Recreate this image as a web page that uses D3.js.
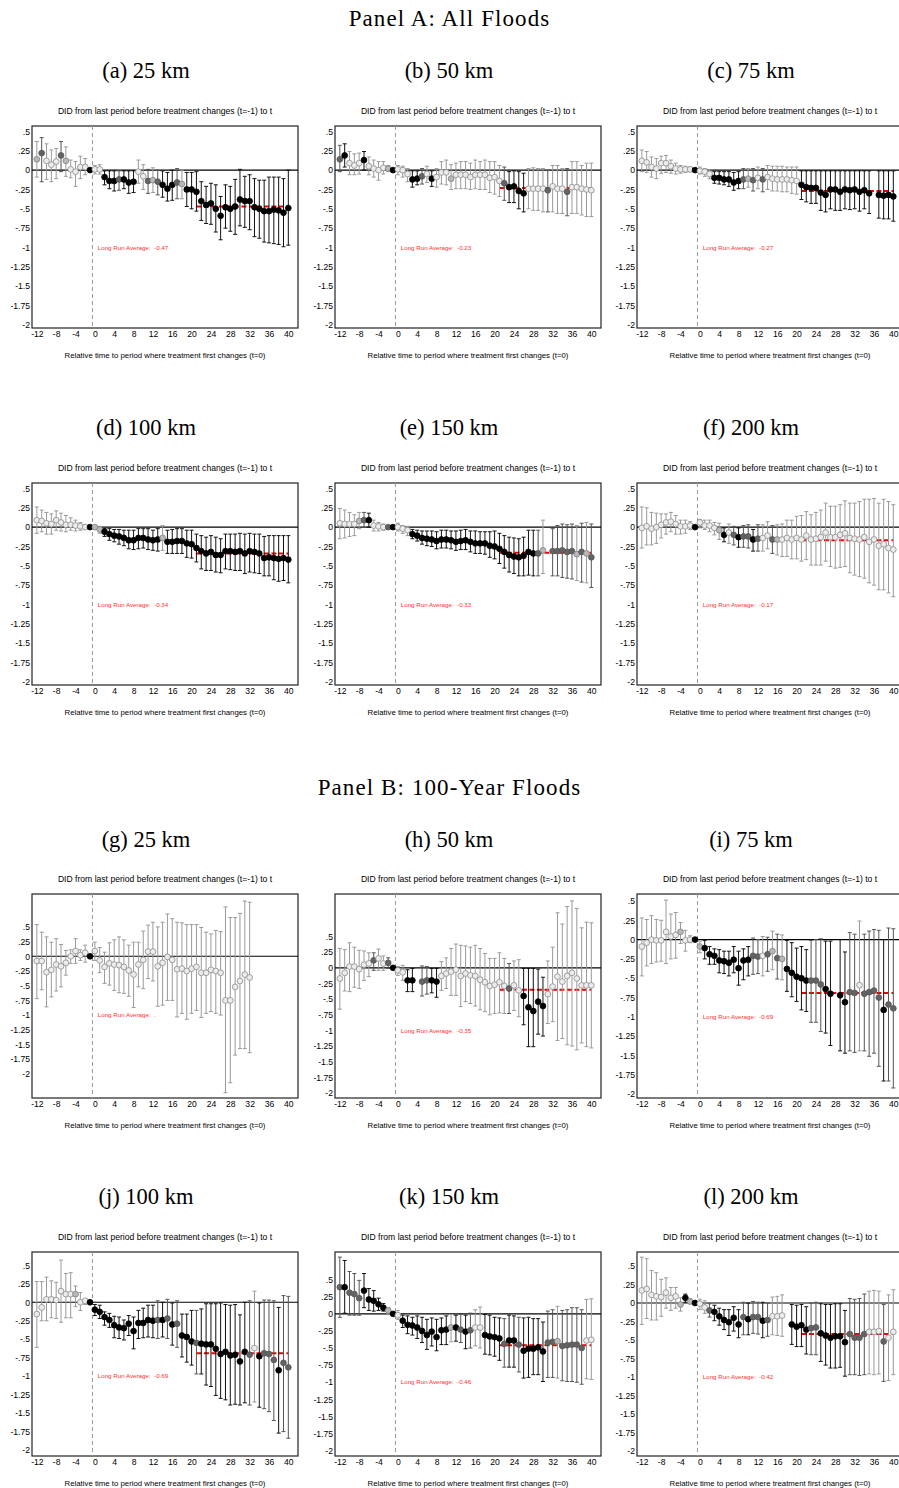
<!DOCTYPE html>
<html>
<head>
<meta charset="utf-8">
<script src="https://cdn.jsdelivr.net/npm/d3@7"></script>
<style>
body { margin: 0; background: #fff; }
svg { display: block; }
.lr { white-space: pre; }
</style>
</head>
<body>
<script>
const W = 899, H = 1488

// relative time to the first treatment change
const periods = [-12,-11,-10,-9,-8,-7,-6,-5,-4,-3,-2,-1,0,1,2,3,4,5,6,7,8,9,10,11,12,13,14,15,16,17,18,19,20,
  21,22,23,24,25,26,27,28,29,30,31,32,33,34,35,36,37,38,39,40]
const xTicks = [-12,-8,-4,0,4,8,12,16,20,24,28,32,36,40]
const yTicks = [0.5,0.25,0,-0.25,-0.5,-0.75,-1,-1.25,-1.5,-1.75,-2]
const yTickLabels = [".5",".25","0","-.25","-.5","-.75","-1","-1.25","-1.5","-1.75","-2"]

const sections = ["Panel A: All Floods", "Panel B: 100-Year Floods"]
const captions = ["(a) 25 km","(b) 50 km","(c) 75 km","(d) 100 km","(e) 150 km","(f) 200 km",
  "(g) 25 km","(h) 50 km","(i) 75 km","(j) 100 km","(k) 150 km","(l) 200 km"]
const lrAvg = [-0.47,-0.23,-0.27,-0.34,-0.33,-0.17,null,-0.35,-0.69,-0.69,-0.46,-0.42]
const lrLabels = ["-0.47","-0.23","-0.27","-0.34","-0.33","-0.17",".","-0.35","-0.69","-0.69","-0.46","-0.42"]

// marker codes: b black, d dark grey, l light grey, o hollow, - not estimated
// (a) 25 km
const est_a = [0.14,0.22,0.12,0.07,0.11,0.19,0.12,0.01,-0.02,0.04,0.04, 0,
  0.01,0.01,-0.09,-0.14,-0.14,-0.12,-0.12,-0.16,-0.15,-0.02,-0.08,-0.14,-0.13,-0.15,-0.19,-0.24,-0.19,-0.16,-0.18,-0.25,-0.25,
  -0.28,-0.40,-0.45,-0.43,-0.50,-0.59,-0.48,-0.50,-0.47,-0.38,-0.40,-0.40,-0.48,-0.50,-0.53,-0.53,-0.51,-0.52,-0.55,-0.49]
const lo_a = [-0.09,-0.15,-0.12,-0.15,-0.11,-0.02,-0.08,-0.10,-0.21,-0.11,-0.06, null,
  -0.05,-0.05,-0.19,-0.24,-0.27,-0.26,-0.24,-0.30,-0.29,-0.17,-0.25,-0.30,-0.29,-0.32,-0.35,-0.40,-0.39,-0.37,-0.37,-0.47,-0.50,
  -0.53,-0.65,-0.69,-0.70,-0.80,-0.90,-0.75,-0.79,-0.83,-0.72,-0.74,-0.77,-0.86,-0.88,-0.93,-0.94,-0.95,-0.96,-0.99,-0.97]
const hi_a = [0.37,0.42,0.34,0.26,0.28,0.37,0.30,0.13,0.11,0.18,0.15, null,
  0.06,0.07,-0.01,-0.01,-0.01,-0.01,-0.01,-0.01,-0.01,0.13,0.07,0.01,0.03,0,-0.01,-0.03,0,0.02,0,-0.03,-0.03,
  -0.02,-0.15,-0.21,-0.17,-0.19,-0.34,-0.19,-0.21,-0.12,0.01,-0.08,-0.06,-0.11,-0.13,-0.13,-0.09,-0.09,-0.09,-0.11,0]
const sty_a = "l d o o o d l o o o o b o o b b b d b b b o o d l d b b b d l b b b b b b b b b b b b b b b b b b b b b b"

// (b) 50 km
const est_b = [0.14,0.19,0.09,0.06,0.09,0.13,0.05,0.02,0,0.03,0.02, 0,
  0.01,0,-0.05,-0.12,-0.11,-0.08,-0.05,-0.11,-0.09,-0.03,-0.03,-0.11,-0.06,-0.06,-0.06,-0.09,-0.06,-0.06,-0.06,-0.10,-0.09,
  -0.14,-0.17,-0.22,-0.21,-0.27,-0.30,-0.24,-0.24,-0.24,-0.24,-0.26,-0.21,-0.24,-0.24,-0.28,-0.22,-0.22,-0.24,-0.25,-0.26]
const lo_b = [-0.02,0.04,-0.06,-0.06,-0.05,0,-0.06,-0.09,-0.13,-0.05,-0.02, null,
  -0.06,-0.09,-0.15,-0.22,-0.19,-0.18,-0.16,-0.21,-0.22,-0.18,-0.19,-0.25,-0.24,-0.24,-0.24,-0.25,-0.24,-0.25,-0.25,-0.29,-0.31,
  -0.34,-0.39,-0.42,-0.42,-0.50,-0.54,-0.50,-0.52,-0.52,-0.54,-0.54,-0.54,-0.56,-0.56,-0.59,-0.56,-0.56,-0.58,-0.60,-0.60]
const hi_b = [0.32,0.34,0.24,0.21,0.22,0.24,0.17,0.13,0.11,0.11,0.06, null,
  0.06,0.05,0.02,-0.01,-0.01,0.02,0.05,-0.01,0.02,0.11,0.13,0.07,0.09,0.11,0.11,0.09,0.13,0.11,0.13,0.11,0.11,
  0.06,0.04,-0.02,-0.01,-0.02,-0.04,0.02,0.03,0.02,0.02,0,0.06,0.06,0.02,0.02,0.11,0.11,0.06,0.09,0.09]
const sty_b = "d b o o o b o o o o l b o o o b b d o b o o o l o o o o o o o o o o d b b b b o o o o d o o o d o o o o o"

// (c) 75 km
const est_c = [0.12,0.10,0.04,0.02,0.09,0.09,0.05,0.02,0.01,0.01,0.01, 0,
  -0.01,-0.02,-0.05,-0.10,-0.10,-0.12,-0.12,-0.16,-0.14,-0.12,-0.11,-0.13,-0.10,-0.12,-0.09,-0.11,-0.12,-0.12,-0.12,-0.13,-0.14,
  -0.19,-0.22,-0.23,-0.23,-0.29,-0.32,-0.25,-0.25,-0.28,-0.25,-0.26,-0.25,-0.28,-0.26,-0.30,null,-0.32,-0.33,-0.32,-0.34]
const lo_c = [-0.02,-0.03,-0.09,-0.11,-0.04,-0.03,-0.04,-0.05,-0.04,-0.03,-0.02, null,
  -0.05,-0.08,-0.11,-0.17,-0.18,-0.19,-0.21,-0.26,-0.24,-0.24,-0.22,-0.27,-0.24,-0.28,-0.25,-0.27,-0.27,-0.28,-0.28,-0.30,-0.31,
  -0.38,-0.41,-0.43,-0.43,-0.52,-0.54,-0.50,-0.52,-0.52,-0.50,-0.51,-0.50,-0.53,-0.50,-0.56,null,-0.62,-0.63,-0.63,-0.66]
const hi_c = [0.26,0.24,0.17,0.15,0.18,0.19,0.13,0.09,0.06,0.05,0.04, null,
  0.04,0.02,0,-0.02,-0.02,-0.02,-0.02,-0.03,-0.02,0.02,0.02,0.02,0.04,0.02,0.06,0.05,0.05,0.05,0.04,0.04,0.04,
  -0.01,-0.01,-0.01,-0.01,-0.01,-0.01,-0.01,-0.01,-0.01,-0.01,-0.01,-0.01,-0.01,-0.01,-0.01,null,-0.01,-0.01,-0.01,-0.01]
const sty_c = "o o o o o o o o o o o b o o o b b b b b b d l d o d o o o o o o o b b b b b b b b b b b b b b b - b b b b"

// (d) 100 km
const est_d = [0.09,0.08,0.05,0.04,0.09,0.06,0.03,0.03,0.02,0.01,0, 0,
  0,-0.03,-0.06,-0.09,-0.11,-0.12,-0.14,-0.17,-0.17,-0.14,-0.14,-0.16,-0.17,-0.16,-0.14,-0.19,-0.19,-0.18,-0.18,-0.21,-0.22,
  -0.27,-0.31,-0.34,-0.32,-0.36,-0.36,-0.31,-0.31,-0.32,-0.31,-0.34,-0.31,-0.32,-0.34,-0.40,-0.39,-0.40,-0.41,-0.40,-0.42]
const lo_d = [-0.08,-0.06,-0.09,-0.09,-0.04,-0.05,-0.06,-0.04,-0.05,-0.04,-0.03, null,
  -0.03,-0.08,-0.12,-0.17,-0.19,-0.22,-0.24,-0.28,-0.29,-0.28,-0.27,-0.29,-0.30,-0.31,-0.30,-0.34,-0.34,-0.34,-0.34,-0.39,-0.40,
  -0.45,-0.54,-0.56,-0.56,-0.58,-0.59,-0.54,-0.55,-0.56,-0.56,-0.60,-0.58,-0.59,-0.60,-0.63,-0.63,-0.68,-0.70,-0.69,-0.72]
const hi_d = [0.26,0.22,0.19,0.17,0.21,0.18,0.15,0.12,0.09,0.06,0.03, null,
  0.02,0.01,-0.02,-0.02,-0.03,-0.03,-0.04,-0.04,-0.04,-0.02,-0.02,-0.02,-0.04,-0.02,0.02,-0.04,-0.03,-0.02,-0.02,-0.04,-0.04,
  -0.09,-0.11,-0.13,-0.11,-0.13,-0.15,-0.09,-0.09,-0.09,-0.08,-0.09,-0.08,-0.09,-0.09,-0.12,-0.11,-0.11,-0.11,-0.11,-0.11]
const sty_d = "o o o o o o o o o o o b l l b b b b b b b b b b b b l b b b b b b b b b b b b b b b b b b b b b b b b b b"

// (e) 150 km
const est_e = [0.05,0.04,0.04,0.04,0.08,0.09,0.09,0.02,0.01,0,0, 0,
  0,-0.02,-0.04,-0.09,-0.11,-0.14,-0.15,-0.16,-0.18,-0.16,-0.16,-0.17,-0.19,-0.18,-0.17,-0.19,-0.21,-0.21,-0.21,-0.24,-0.25,
  -0.28,-0.32,-0.36,-0.38,-0.39,-0.37,-0.32,-0.34,-0.34,-0.30,null,-0.31,-0.31,-0.30,-0.32,-0.31,-0.35,-0.32,-0.34,-0.39]
const lo_e = [-0.15,-0.14,-0.12,-0.11,-0.02,0,0,-0.05,-0.05,-0.04,-0.03, null,
  -0.05,-0.08,-0.11,-0.15,-0.18,-0.22,-0.24,-0.25,-0.28,-0.27,-0.27,-0.28,-0.30,-0.29,-0.29,-0.32,-0.34,-0.34,-0.35,-0.39,-0.41,
  -0.47,-0.53,-0.58,-0.60,-0.63,-0.63,-0.62,-0.63,-0.63,-0.60,null,-0.63,-0.63,-0.65,-0.66,-0.67,-0.69,-0.71,-0.72,-0.78]
const hi_e = [0.24,0.22,0.19,0.16,0.19,0.19,0.18,0.09,0.06,0.04,0.02, null,
  0.05,0.02,0.01,-0.03,-0.04,-0.05,-0.05,-0.05,-0.06,-0.04,-0.04,-0.05,-0.05,-0.04,-0.03,-0.05,-0.05,-0.06,-0.06,-0.06,-0.05,
  -0.08,-0.11,-0.13,-0.14,-0.15,-0.13,-0.04,-0.04,-0.04,0.09,null,-0.02,0.02,0.04,0.03,0.04,0.02,0.05,0.06,0.04]
const sty_e = "o o o o l d b o o o d b o o o b b b b b b b b b b b b b b b b b b b b b b b b b b d l - d d d d d l d l d"

// (f) 200 km
const est_f = [-0.01,0.01,-0.02,0,0.03,0.06,0.07,0.04,0.01,0.01,0.02, 0,
  0.06,0.02,0.02,-0.01,-0.04,-0.10,-0.07,-0.10,-0.13,-0.12,-0.12,-0.16,-0.15,-0.14,-0.11,-0.16,-0.16,-0.16,-0.14,-0.16,-0.14,
  -0.16,-0.11,-0.16,-0.15,-0.13,-0.07,-0.13,-0.13,-0.10,-0.08,-0.14,-0.15,-0.16,-0.13,-0.19,-0.16,-0.24,-0.22,-0.27,-0.29]
const lo_f = [-0.27,-0.23,-0.23,-0.21,-0.14,-0.09,-0.06,-0.09,-0.09,-0.08,-0.03, null,
  -0.01,-0.03,-0.06,-0.10,-0.16,-0.19,-0.21,-0.23,-0.26,-0.26,-0.27,-0.31,-0.31,-0.31,-0.28,-0.34,-0.36,-0.38,-0.38,-0.41,-0.41,
  -0.44,-0.42,-0.49,-0.49,-0.49,-0.44,-0.51,-0.53,-0.52,-0.51,-0.59,-0.62,-0.64,-0.66,-0.72,-0.75,-0.81,-0.81,-0.85,-0.90]
const hi_f = [0.26,0.25,0.19,0.18,0.17,0.17,0.19,0.15,0.09,0.09,0.07, null,
  0.10,0.09,0.09,0.06,0.05,-0.01,0.04,0.01,-0.01,0.02,0.03,-0.03,0.03,0.03,0.07,0.02,0.03,0.04,0.09,0.09,0.14,
  0.15,0.20,0.16,0.19,0.22,0.31,0.27,0.27,0.29,0.34,0.31,0.31,0.33,0.36,0.36,0.37,0.31,0.36,0.33,0.29]
const sty_f = "o o o o o o o o o o o b o o o o l b o d b d d b d o o d l o o o o o o o o o o o o o o o o o o o o o o o o"

// (g) 25 km, 100-year floods
const est_g = [-0.08,-0.08,-0.27,-0.23,-0.14,-0.17,-0.11,0,0.09,0.02,0.06, 0,
  0.09,-0.07,-0.18,-0.12,-0.14,-0.15,-0.18,-0.24,-0.31,-0.14,-0.06,0.08,0.08,-0.17,-0.11,-0.01,-0.06,-0.22,-0.21,-0.25,-0.21,
  -0.18,-0.28,-0.28,-0.23,-0.25,-0.28,-0.75,-0.75,-0.52,-0.42,-0.31,-0.36,null,null,null,null,null,null,null,null]
const lo_g = [-0.72,-0.57,-0.86,-0.69,-0.59,-0.52,-0.32,-0.12,-0.12,-0.07,-0.10, null,
  -0.07,-0.28,-0.46,-0.49,-0.58,-0.62,-0.63,-0.68,-0.87,-0.52,-0.55,-0.38,-0.42,-0.85,-0.83,-0.75,-0.75,-1.03,-0.97,-1.07,-0.97,
  -0.92,-1.04,-0.97,-0.94,-0.97,-1.00,-2.32,-2.15,-1.68,-1.57,-1.57,-1.64,null,null,null,null,null,null,null,null]
const hi_g = [0.54,0.41,0.33,0.24,0.30,0.20,0.10,0.11,0.30,0.11,0.19, null,
  0.24,0.15,0.07,0.23,0.28,0.33,0.28,0.19,0.24,0.24,0.43,0.53,0.58,0.50,0.58,0.72,0.64,0.58,0.57,0.54,0.54,
  0.54,0.49,0.41,0.38,0.44,0.42,0.84,0.66,0.66,0.73,0.94,0.92,null,null,null,null,null,null,null,null]
const sty_g = "o o o o o o o o o o o b o o o o o o o o o o o o o o o o o o o o o o o o o o o o o o o o o - - - - - - - -"

// (h) 50 km
const est_h = [-0.17,-0.08,0.02,0.02,-0.02,0.05,0.07,0.12,0.15,0.07,0.08, 0,
  -0.04,-0.07,-0.20,-0.20,null,-0.22,-0.20,-0.20,-0.22,-0.13,-0.09,-0.06,-0.03,-0.13,-0.09,-0.12,-0.13,-0.19,-0.23,-0.29,-0.27,
  -0.23,-0.29,-0.33,-0.28,-0.36,-0.45,-0.63,-0.69,-0.54,-0.61,-0.42,-0.30,-0.14,-0.22,-0.13,-0.08,-0.17,-0.28,-0.28,-0.28]
const lo_h = [-0.66,-0.37,-0.38,-0.31,-0.33,-0.20,-0.14,-0.04,-0.04,-0.04,-0.01, null,
  -0.12,-0.20,-0.38,-0.38,null,-0.45,-0.42,-0.40,-0.47,-0.36,-0.33,-0.44,-0.44,-0.62,-0.54,-0.57,-0.61,-0.67,-0.70,-0.75,-0.73,
  -0.72,-0.73,-0.73,-0.68,-0.78,-0.91,-1.26,-1.26,-1.06,-1.09,-0.89,-0.86,-1.16,-1.13,-1.23,-1.25,-1.31,-1.20,-1.26,-1.28]
const hi_h = [0.31,0.29,0.40,0.33,0.28,0.27,0.24,0.24,0.30,0.19,0.16, null,
  0.02,0.04,-0.03,-0.01,null,0.03,0.02,-0.01,-0.01,0.10,0.16,0.31,0.38,0.36,0.35,0.33,0.36,0.31,0.23,0.15,0.15,
  0.24,0.15,0.07,0.11,0.13,-0.01,-0.01,-0.01,-0.02,-0.15,0.11,0.33,0.88,0.70,0.98,1.07,0.95,0.64,0.73,0.72]
const sty_h = "o o o o o o o d o o d b o o b b - d d b b o o o o o o o o o o o o o o d o o b b b b b o o o o o o o o o o"

// (i) 75 km
const est_i = [-0.09,-0.04,0,-0.01,-0.01,0.10,0.04,0.06,0.10,-0.01,0, 0,
  -0.09,-0.11,-0.19,-0.21,-0.27,-0.28,-0.30,-0.26,-0.37,-0.27,-0.26,-0.21,-0.22,-0.21,-0.19,-0.15,-0.24,-0.25,-0.38,-0.43,-0.48,
  -0.50,-0.53,-0.53,-0.53,-0.58,-0.64,-0.70,null,-0.72,-0.81,-0.68,-0.69,-0.59,-0.70,-0.68,-0.66,-0.75,-0.91,-0.84,-0.89]
const lo_i = [-0.47,-0.34,-0.31,-0.29,-0.28,-0.31,-0.25,-0.24,-0.05,-0.15,-0.04, null,
  -0.17,-0.25,-0.32,-0.32,-0.43,-0.44,-0.47,-0.43,-0.59,-0.52,-0.47,-0.45,-0.44,-0.47,-0.41,-0.39,-0.51,-0.52,-0.67,-0.74,-0.80,
  -0.91,-0.93,-1.07,-1.07,-1.19,-1.21,-1.37,null,-1.44,-1.47,-1.44,-1.46,-1.44,-1.44,-1.51,-1.47,-1.64,-1.83,-1.83,-1.92]
const hi_i = [0.28,0.26,0.31,0.26,0.25,0.51,0.33,0.35,0.22,0.12,0.05, null,
  -0.02,-0.01,-0.09,-0.12,-0.13,-0.15,-0.15,-0.09,-0.15,-0.12,-0.09,0.02,0,0.04,0.03,0.11,0.07,0.06,-0.01,-0.04,-0.11,
  -0.09,-0.13,-0.01,0,0.01,-0.02,-0.02,null,0,-0.16,0.09,0.07,0.24,0.07,0.11,0.13,0.12,0,0.15,0.14]
const sty_i = "o o o o o o o o l o o b l b b b b b b b b b b d d o d l d l b b b b b d d d b b - b b d d o d d d d b d d"

// (j) 100 km
const est_j = [-0.16,-0.07,0.04,0.04,0.03,0.15,0.11,0.11,0.11,0,0.02, 0,
  -0.10,-0.13,-0.20,-0.24,-0.31,-0.34,-0.35,-0.29,-0.39,-0.28,-0.28,-0.24,-0.25,-0.24,-0.24,-0.22,-0.30,-0.29,-0.45,-0.47,-0.53,
  -0.55,-0.56,-0.57,-0.57,-0.63,-0.70,-0.67,-0.72,-0.71,-0.80,-0.67,-0.71,-0.62,-0.73,-0.69,-0.70,-0.78,-0.92,-0.82,-0.88]
const lo_j = [-0.61,-0.25,-0.25,-0.21,-0.22,-0.27,-0.21,-0.21,-0.06,-0.11,-0.03, null,
  -0.18,-0.22,-0.31,-0.34,-0.48,-0.49,-0.51,-0.45,-0.63,-0.49,-0.48,-0.47,-0.48,-0.49,-0.47,-0.49,-0.58,-0.61,-0.74,-0.81,-0.85,
  -0.97,-0.97,-1.12,-1.14,-1.26,-1.30,-1.32,-1.39,-1.38,-1.39,-1.36,-1.39,-1.35,-1.42,-1.44,-1.48,-1.60,-1.77,-1.75,-1.84]
const hi_j = [0.28,0.28,0.34,0.29,0.27,0.57,0.39,0.40,0.22,0.13,0.04, null,
  -0.03,-0.04,-0.13,-0.15,-0.19,-0.20,-0.24,-0.18,-0.20,-0.11,-0.08,-0.04,-0.04,0.02,0,0.04,-0.01,0.02,-0.16,-0.16,-0.11,
  -0.11,-0.09,-0.02,-0.02,-0.02,-0.01,-0.03,-0.04,-0.03,-0.17,0,0.02,0.15,-0.01,0.03,0.03,0.02,-0.07,0.09,0.08]
const sty_j = "o o o o o o o o l o o b b b b b b b b b b b b b b d b d b d b b b d b b b b b b b b b b d o b d d d b d d"

// (k) 150 km
const est_k = [0.39,0.39,0.31,0.29,0.23,0.34,0.21,0.19,0.14,0.09,0.05, 0,
  -0.02,-0.10,-0.16,-0.17,-0.20,-0.25,-0.31,-0.26,-0.34,-0.24,-0.23,-0.20,-0.20,-0.23,-0.26,-0.24,-0.20,-0.20,-0.31,-0.33,-0.34,
  -0.36,-0.44,-0.39,-0.39,-0.45,-0.54,-0.51,-0.51,-0.49,-0.55,-0.42,-0.41,-0.40,-0.47,-0.46,-0.45,-0.45,-0.50,-0.39,-0.38]
const lo_k = [-0.05,0.01,-0.02,-0.02,-0.02,0.09,0.05,0.04,0.05,0.04,0, null,
  -0.08,-0.20,-0.29,-0.31,-0.36,-0.42,-0.52,-0.47,-0.54,-0.45,-0.45,-0.41,-0.40,-0.42,-0.51,-0.50,-0.47,-0.50,-0.59,-0.60,-0.62,
  -0.68,-0.78,-0.78,-0.78,-0.85,-0.94,-0.93,-0.89,-0.89,-0.99,-0.93,-0.93,-0.94,-0.98,-0.99,-0.99,-1.00,-1.03,-0.95,-0.96]
const hi_k = [0.83,0.78,0.62,0.59,0.49,0.59,0.37,0.34,0.23,0.15,0.09, null,
  0.05,-0.02,-0.03,-0.05,-0.03,-0.05,-0.08,-0.06,-0.08,-0.06,-0.03,-0.01,-0.02,-0.01,-0.02,0.01,0.06,0.10,-0.01,-0.02,-0.05,
  -0.06,-0.07,-0.02,-0.03,-0.05,-0.06,-0.05,-0.07,-0.07,-0.12,0.04,0.06,0.11,0.05,0.06,0.09,0.09,0.06,0.21,0.22]
const sty_k = "d b d d d b b b b b l b o b b b b b b b b b b l b d b d o o b b b b d b b d b b b b b d d l d d d d d o o"

// (l) 200 km
const est_l = [0.17,0.19,0.11,0.09,0.08,0.14,0.07,0.09,-0.02,0.07,0.02, 0,
  -0.01,-0.06,-0.10,-0.12,-0.18,-0.23,-0.26,-0.20,-0.29,-0.19,-0.22,-0.19,-0.19,-0.24,-0.23,-0.18,-0.18,-0.17,null,-0.29,-0.32,
  -0.30,-0.36,-0.34,-0.33,-0.41,-0.44,-0.47,-0.45,-0.45,-0.53,-0.42,-0.47,-0.47,-0.42,-0.39,-0.39,-0.38,-0.52,-0.47,-0.39]
const lo_l = [-0.29,-0.21,-0.23,-0.23,-0.18,-0.07,-0.10,-0.07,-0.11,0.01,-0.01, null,
  -0.09,-0.14,-0.19,-0.24,-0.30,-0.36,-0.44,-0.38,-0.47,-0.43,-0.43,-0.41,-0.42,-0.47,-0.45,-0.43,-0.44,-0.45,null,-0.56,-0.59,
  -0.59,-0.69,-0.70,-0.70,-0.79,-0.84,-0.88,-0.88,-0.87,-0.99,-0.97,-0.97,-0.98,-0.97,-0.96,-0.97,-0.96,-1.06,-1.05,-0.97]
const hi_l = [0.62,0.60,0.44,0.41,0.32,0.34,0.21,0.21,0.07,0.12,0.06, null,
  0.05,0.03,-0.01,-0.03,-0.07,-0.09,-0.09,-0.05,-0.09,0.01,0,0.02,0.01,0.01,0,0.08,0.09,0.11,null,-0.02,-0.03,
  -0.02,-0.05,0,0.01,-0.01,-0.02,-0.02,-0.01,-0.01,-0.10,0.06,0.05,0.06,0.12,0.16,0.17,0.16,-0.02,0.11,0.18]
const sty_l = "o o o o o o o o l b l b o o d b b b b b b d b d d b d o o o - b b b b d d b b b b b b d d d d o o o d o o"

const panels = [
  {key: "a", est: est_a, lo: lo_a, hi: hi_a, sty: sty_a},
  {key: "b", est: est_b, lo: lo_b, hi: hi_b, sty: sty_b},
  {key: "c", est: est_c, lo: lo_c, hi: hi_c, sty: sty_c},
  {key: "d", est: est_d, lo: lo_d, hi: hi_d, sty: sty_d},
  {key: "e", est: est_e, lo: lo_e, hi: hi_e, sty: sty_e},
  {key: "f", est: est_f, lo: lo_f, hi: hi_f, sty: sty_f},
  {key: "g", est: est_g, lo: lo_g, hi: hi_g, sty: sty_g},
  {key: "h", est: est_h, lo: lo_h, hi: hi_h, sty: sty_h},
  {key: "i", est: est_i, lo: lo_i, hi: hi_i, sty: sty_i},
  {key: "j", est: est_j, lo: lo_j, hi: hi_j, sty: sty_j},
  {key: "k", est: est_k, lo: lo_k, hi: hi_k, sty: sty_k},
  {key: "l", est: est_l, lo: lo_l, hi: hi_l, sty: sty_l}
]

// y ranges of each graph (stata picks them from the data)
const yDomains = [
  [-2.04, 0.57], [-2.04, 0.57], [-2.04, 0.57],
  [-2.04, 0.57], [-2.04, 0.57], [-2.04, 0.57],
  [-2.41, 1.06], [-2.08, 1.18], [-2.05, 0.59],
  [-2.08, 0.68], [-2.08, 0.905], [-2.07, 0.69]
]

// layout
const colLeft = [32, 335, 637]
const boxW = 266
const rowTop = [126, 483, 894, 1252]
const rowH = [202, 202, 204, 204]
const capY = [70, 427, 839, 1196]
const sectionY = [18, 787]

const sans = "'Liberation Sans', Arial, sans-serif"
const serif = "'Liberation Serif', 'Times New Roman', serif"

const markStyle = {
  b: {fill: "#000", stroke: "#000", bar: "#111"},
  d: {fill: "#636363", stroke: "#555", bar: "#555"},
  l: {fill: "#b8b8b8", stroke: "#808080", bar: "#9a9a9a"},
  o: {fill: "#ececec", stroke: "#8a8a8a", bar: "#9a9a9a"}
}

const svg = d3.select("body").append("svg")
  .attr("width", W)
  .attr("height", H)
  .attr("viewBox", [0, 0, W, H])

svg.selectAll("text.section")
  .data(sections)
  .join("text")
  .attr("class", "section")
  .attr("x", W / 2)
  .attr("y", (d, i) => sectionY[i])
  .attr("dy", "0.35em")
  .attr("text-anchor", "middle")
  .attr("font-family", serif)
  .attr("font-size", 23)
  .attr("letter-spacing", 1.1)
  .text(d => d)

panels.forEach((p, i) => {
  const codes = p.sty.split(" ")
  if (p.est.length !== 53 || p.lo.length !== 53 || p.hi.length !== 53 || codes.length !== 53)
    throw new Error(`panel ${p.key}: ${p.est.length} ${p.lo.length} ${p.hi.length} ${codes.length}`)

  const col = i % 3, row = Math.floor(i / 3)
  const left = colLeft[col], top = rowTop[row], h = rowH[row]

  const x = d3.scaleLinear().domain([-13, 42]).range([left, left + boxW])
  const y = d3.scaleLinear().domain(yDomains[i]).range([top + h, top])

  const data = periods.map((t, j) => ({t, est: p.est[j], lo: p.lo[j], hi: p.hi[j], s: codes[j]}))
    .filter(d => d.s !== "-")

  const g = svg.append("g")

  // captions
  g.append("text")
    .attr("x", left + 114)
    .attr("y", capY[row])
    .attr("dy", "0.35em")
    .attr("text-anchor", "middle")
    .attr("font-family", serif)
    .attr("font-size", 22.5)
    .text(captions[i])

  g.append("text")
    .attr("x", left + boxW / 2)
    .attr("y", top - 15.5)
    .attr("dy", "0.35em")
    .attr("text-anchor", "middle")
    .attr("font-family", sans)
    .attr("font-size", 8.6)
    .text("DID from last period before treatment changes (t=-1) to t")

  g.append("text")
    .attr("x", left + boxW / 2)
    .attr("y", top + h + 27)
    .attr("dy", "0.35em")
    .attr("text-anchor", "middle")
    .attr("font-family", sans)
    .attr("font-size", 7.8)
    .text("Relative time to period where treatment first changes (t=0)")

  // frame
  g.append("rect")
    .attr("x", left).attr("y", top)
    .attr("width", boxW).attr("height", h)
    .attr("fill", "#fff")
    .attr("stroke", "#222")
    .attr("stroke-width", 1.2)

  // axes
  g.append("g")
    .attr("transform", `translate(${left},0)`)
    .call(d3.axisLeft(y).tickValues(yTicks).tickSize(0).tickPadding(2)
      .tickFormat(d => yTickLabels[yTicks.indexOf(d)]))
    .call(a => a.select(".domain").remove())
    .attr("font-family", sans)
    .attr("font-size", 8.6)

  g.append("g")
    .attr("transform", `translate(0,${top + h})`)
    .call(d3.axisBottom(x).tickValues(xTicks).tickSize(0).tickPadding(3)
      .tickFormat(d => String(d)))
    .call(a => a.select(".domain").remove())
    .attr("font-family", sans)
    .attr("font-size", 8.6)

  // reference lines
  g.append("line")
    .attr("x1", x(-0.5)).attr("x2", x(-0.5))
    .attr("y1", top).attr("y2", top + h)
    .attr("stroke", "#999")
    .attr("stroke-dasharray", "4,3")

  g.append("line")
    .attr("x1", left).attr("x2", left + boxW)
    .attr("y1", y(0)).attr("y2", y(0))
    .attr("stroke", "#000")
    .attr("stroke-width", 1.1)

  // long run average
  g.append("text")
    .attr("class", "lr")
    .attr("x", x(0.6))
    .attr("y", y(-1))
    .attr("dy", "0.35em")
    .attr("font-family", sans)
    .attr("font-size", 6.2)
    .attr("fill", "#ff3030")
    .text("Long Run Average:  " + lrLabels[i])

  if (lrAvg[i] !== null) {
    g.append("line")
      .attr("x1", x(21)).attr("x2", x(40))
      .attr("y1", y(lrAvg[i])).attr("y2", y(lrAvg[i]))
      .attr("stroke", "#ee0000")
      .attr("stroke-width", 2)
      .attr("stroke-dasharray", "5,2.5")
  }

  // confidence intervals
  const ci = data.filter(d => d.lo !== null)
  const bars = g.append("g")
    .selectAll("g")
    .data(ci)
    .join("g")
    .attr("stroke", d => markStyle[d.s].bar)
    .attr("stroke-width", 1)

  bars.append("line")
    .attr("x1", d => x(d.t)).attr("x2", d => x(d.t))
    .attr("y1", d => y(d.lo)).attr("y2", d => y(d.hi))
  bars.append("line")
    .attr("x1", d => x(d.t) - 2).attr("x2", d => x(d.t) + 2)
    .attr("y1", d => y(d.lo)).attr("y2", d => y(d.lo))
  bars.append("line")
    .attr("x1", d => x(d.t) - 2).attr("x2", d => x(d.t) + 2)
    .attr("y1", d => y(d.hi)).attr("y2", d => y(d.hi))

  // point estimates
  g.append("g")
    .selectAll("circle")
    .data(data.filter(d => d.est !== null))
    .join("circle")
    .attr("cx", d => x(d.t))
    .attr("cy", d => y(d.est))
    .attr("r", 2.9)
    .attr("fill", d => markStyle[d.s].fill)
    .attr("stroke", d => markStyle[d.s].stroke)
    .attr("stroke-width", 0.8)
})
</script>
</body>
</html>
